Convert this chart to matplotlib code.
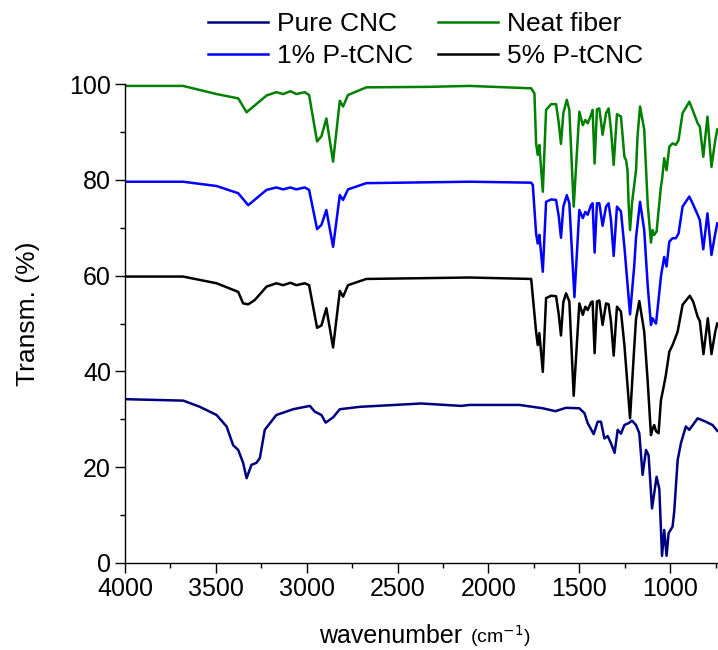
import matplotlib
matplotlib.use("Agg")
import matplotlib.pyplot as plt
from matplotlib.ticker import MultipleLocator
from matplotlib.offsetbox import TextArea, HPacker, AnchoredOffsetbox

plt.rcParams['font.family'] = ['Liberation Sans', 'DejaVu Sans']

# FTIR spectra: (wavenumber, transmittance %)
neat_wn = [4000, 3681, 3496, 3377, 3331, 3221, 3167, 3130, 3090, 3057, 3011, 2987, 2943, 2919,
           2892, 2855, 2818, 2800, 2773, 2672, 2335, 2104, 1765, 1747, 1738, 1729, 1720, 1701,
           1683, 1655, 1628, 1613, 1601, 1588, 1569, 1555, 1531, 1500, 1481, 1467, 1454, 1436,
           1427, 1416, 1403, 1390, 1372, 1353, 1339, 1326, 1311, 1293, 1271, 1252, 1243, 1235,
           1229, 1221, 1210, 1188, 1180, 1166, 1143, 1124, 1106, 1097, 1088, 1075, 1060, 1051,
           1045, 1033, 1020, 1005, 987, 969, 954, 932, 895, 877, 849, 837, 818, 795, 773, 752, 741]
neat_tr = [99.6, 99.6, 97.9, 97.0, 94.1, 97.6, 98.3, 97.9, 98.5, 97.9, 98.3, 97.7, 88.0, 89.1,
           92.8, 83.8, 96.5, 95.3, 97.7, 99.3, 99.4, 99.6, 99.1, 98.0, 87.6, 85.2, 87.3, 77.5,
           94.6, 95.8, 95.8, 91.8, 87.5, 93.9, 96.7, 94.6, 74.4, 94.2, 91.4, 92.5, 91.8, 93.5,
           94.6, 83.4, 94.7, 94.9, 89.4, 93.9, 94.9, 90.5, 83.1, 93.7, 93.2, 84.8, 84.1, 82.0,
           75.2, 69.5, 75.2, 82.0, 89.0, 95.3, 90.5, 75.0, 66.9, 69.5, 68.5, 69.2, 75.1, 78.6,
           80.0, 84.5, 82.0, 86.9, 87.6, 87.3, 88.3, 93.9, 96.3, 94.6, 91.8, 91.1, 84.8, 93.2, 82.7, 88.3, 90.5]

p1_wn = [4000, 3681, 3496, 3377, 3322, 3221, 3167, 3130, 3090, 3057, 3011, 2987, 2943, 2919,
         2892, 2855, 2818, 2800, 2773, 2672, 2104, 1765, 1756, 1738, 1729, 1720, 1701, 1683,
         1655, 1628, 1613, 1601, 1588, 1569, 1555, 1527, 1500, 1481, 1467, 1454, 1436, 1427,
         1416, 1403, 1390, 1372, 1353, 1339, 1326, 1311, 1293, 1271, 1252, 1221, 1198, 1188,
         1166, 1143, 1124, 1106, 1097, 1088, 1078, 1064, 1051, 1045, 1033, 1020, 1005, 987,
         969, 954, 932, 895, 877, 849, 837, 818, 795, 773, 752, 741]
p1_tr = [79.6, 79.6, 78.7, 77.2, 74.7, 77.9, 78.4, 78.0, 78.4, 78.0, 78.4, 77.9, 69.7, 70.6,
         73.7, 66.0, 76.8, 75.8, 78.0, 79.3, 79.6, 79.4, 78.9, 68.8, 66.7, 68.5, 60.8, 75.4,
         75.9, 75.8, 72.3, 67.9, 74.4, 76.8, 75.1, 55.5, 73.7, 72.0, 73.3, 72.7, 74.7, 75.1,
         64.8, 75.1, 75.1, 70.4, 74.4, 75.1, 71.6, 64.1, 74.4, 73.4, 66.0, 51.9, 62.0, 68.0,
         75.4, 69.5, 58.0, 49.7, 51.1, 50.5, 50.0, 55.0, 59.8, 61.2, 63.9, 61.9, 67.1, 67.8,
         67.8, 68.8, 74.4, 76.5, 75.1, 72.7, 71.6, 65.5, 73.0, 64.3, 68.8, 70.9]

p5_wn = [4000, 3681, 3496, 3377, 3350, 3322, 3286, 3221, 3167, 3130, 3090, 3057, 3011, 2987,
         2943, 2919, 2892, 2855, 2818, 2800, 2773, 2672, 2104, 1765, 1738, 1729, 1720, 1701,
         1683, 1655, 1628, 1613, 1601, 1588, 1573, 1555, 1531, 1500, 1481, 1467, 1454, 1436,
         1427, 1416, 1403, 1390, 1372, 1353, 1339, 1326, 1311, 1293, 1271, 1252, 1221, 1198,
         1188, 1170, 1143, 1124, 1106, 1097, 1088, 1078, 1064, 1051, 1036, 1024, 1005, 987,
         959, 932, 892, 873, 849, 837, 817, 793, 773, 752, 741]
p5_tr = [59.8, 59.8, 58.4, 56.6, 54.2, 54.0, 54.9, 57.7, 58.4, 58.0, 58.5, 58.0, 58.4, 58.0,
         49.1, 49.6, 53.2, 45.0, 56.8, 55.6, 58.0, 59.3, 59.6, 59.3, 48.3, 45.5, 48.0, 39.9,
         55.3, 55.8, 55.7, 51.8, 47.5, 54.5, 56.3, 54.6, 34.9, 54.2, 51.8, 53.5, 52.8, 54.4,
         54.6, 43.8, 54.6, 54.8, 49.7, 54.2, 54.0, 50.4, 43.3, 53.5, 52.5, 45.5, 30.2, 45.0,
         51.0, 54.7, 48.3, 38.0, 26.7, 28.0, 28.8, 27.5, 27.1, 34.0, 36.8, 39.2, 44.1, 45.5,
         48.3, 53.9, 55.8, 54.5, 51.4, 50.5, 43.6, 51.1, 43.6, 48.3, 50.0]

cnc_wn = [4000, 3679, 3588, 3496, 3441, 3405, 3377, 3350, 3331, 3304, 3277, 3258, 3231, 3167,
          3075, 2983, 2956, 2919, 2896, 2855, 2818, 2709, 2370, 2150, 2104, 1830, 1701, 1632,
          1573, 1500, 1472, 1454, 1421, 1399, 1381, 1362, 1344, 1326, 1306, 1289, 1271, 1252,
          1229, 1210, 1188, 1170, 1152, 1133, 1119, 1100, 1075, 1060, 1045, 1033, 1020, 1009,
          987, 978, 959, 941, 914, 895, 849, 804, 767, 741]
cnc_tr = [34.2, 33.9, 32.6, 30.9, 28.5, 24.6, 23.6, 20.9, 17.7, 20.5, 20.9, 21.9, 27.8, 30.9,
          32.1, 32.8, 31.6, 30.9, 29.3, 30.4, 32.1, 32.6, 33.3, 32.8, 33.0, 33.0, 32.3, 31.7,
          32.4, 32.3, 31.3, 29.2, 26.9, 29.5, 29.5, 26.0, 26.5, 25.0, 23.0, 27.8, 27.0, 28.8,
          29.2, 29.7, 28.8, 27.1, 18.4, 23.6, 22.5, 11.4, 18.0, 15.5, 1.5, 6.9, 1.5, 6.2,
          7.6, 10.7, 21.5, 25.0, 28.5, 27.8, 30.2, 29.5, 28.8, 27.6]

fig = plt.figure(figsize=(7.18, 6.5), dpi=100)
ax = fig.add_axes([125 / 718, 87 / 650, 593 / 718, 479 / 650])

lw = 1.8
l_cnc, = ax.plot(cnc_wn, cnc_tr, color='#000080', lw=lw, label='Pure CNC')
l_neat, = ax.plot(neat_wn, neat_tr, color='#008000', lw=lw, label='Neat fiber')
l_p1, = ax.plot(p1_wn, p1_tr, color='#0000FF', lw=lw, label='1% P-tCNC')
l_p5, = ax.plot(p5_wn, p5_tr, color='black', lw=lw, label='5% P-tCNC')

ax.set_xlim(4000, 737)
ax.set_ylim(0, 100)
ax.spines['top'].set_visible(False)
ax.spines['right'].set_visible(False)
for s in ('left', 'bottom'):
    ax.spines[s].set_linewidth(1.0)

ax.set_xticks([4000, 3500, 3000, 2500, 2000, 1500, 1000])
ax.xaxis.set_minor_locator(MultipleLocator(250))
ax.set_yticks([0, 20, 40, 60, 80, 100])
ax.yaxis.set_minor_locator(MultipleLocator(10))
ax.tick_params(which='major', direction='out', length=7, width=1.0, labelsize=18, pad=3)
ax.tick_params(which='minor', direction='out', length=3.6, width=1.0)

ax.set_ylabel('Transm. (%)', fontsize=19)
ax.yaxis.set_label_coords(-0.143, 0.52)

# x label with a smaller unit part
ta1 = TextArea('wavenumber', textprops=dict(fontsize=18))
ta2 = TextArea('(cm$^{-1}$)', textprops=dict(fontsize=14))
box = HPacker(children=[ta1, ta2], align='baseline', pad=0, sep=6)
ab = AnchoredOffsetbox(loc='center', child=box, pad=0, borderpad=0, frameon=False,
                       bbox_to_anchor=(0.592, 1 - 636 / 650), bbox_transform=fig.transFigure)
fig.add_artist(ab)

fig.legend(handles=[l_cnc, l_p1, l_neat, l_p5], ncol=2, frameon=False, fontsize=19,
           loc='upper left', bbox_to_anchor=(208 / 718, 1 - 12 / 650),
           handlelength=2.27, handletextpad=0.34, columnspacing=0.95, labelspacing=0.3,
           borderpad=0, borderaxespad=0)

fig.savefig('out.png', dpi=100)
